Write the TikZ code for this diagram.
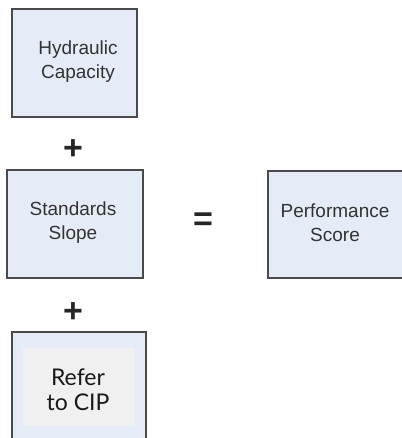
\documentclass[tikz,border=0pt]{standalone}
\usepackage{fontspec}
\setmainfont{Liberation Sans}
\newfontfamily\gillfont{Lato}
\definecolor{boxfill}{HTML}{E6ECF7}
\definecolor{boxline}{HTML}{4A4A4A}
\definecolor{innerfill}{HTML}{F0F0F0}
\definecolor{txt}{HTML}{333333}
\begin{document}
\begin{tikzpicture}[x=1pt,y=-1pt,
  opbox/.style={draw=boxline,line width=2.2pt,fill=boxfill},
  boxtext/.style={font=\fontsize{19}{24}\selectfont,text=txt,align=center},
  optext/.style={font=\bfseries\fontsize{34}{34}\selectfont,text=black!85,inner sep=0pt}]
\useasboundingbox (0,0) rectangle (401,438);
\path[opbox] (12,9) rectangle (137,117);
\node[boxtext] (hc) at (78,62) {Hydraulic\\Capacity};
\node[optext] (p1) at (73,150) {+};
\path[opbox] (7,170) rectangle (143,278);
\node[boxtext] (ss) at (73,223) {Standards\\Slope};
\node[optext] (eq) at (203,222) {=};
\path[opbox] (268,171) rectangle (420,278);
\node[boxtext] (ps) at (335,223) {Performance\\Score};
\node[optext] (p2) at (73,313) {+};
\path[opbox] (12,332) rectangle (146,450);
\path[fill=innerfill] (23,348) rectangle (135,426);
\node[font=\gillfont\fontsize{23}{25}\selectfont,align=center,text=black!90] (cip) at (78,390) {Refer\\to CIP};
\end{tikzpicture}
\end{document}
